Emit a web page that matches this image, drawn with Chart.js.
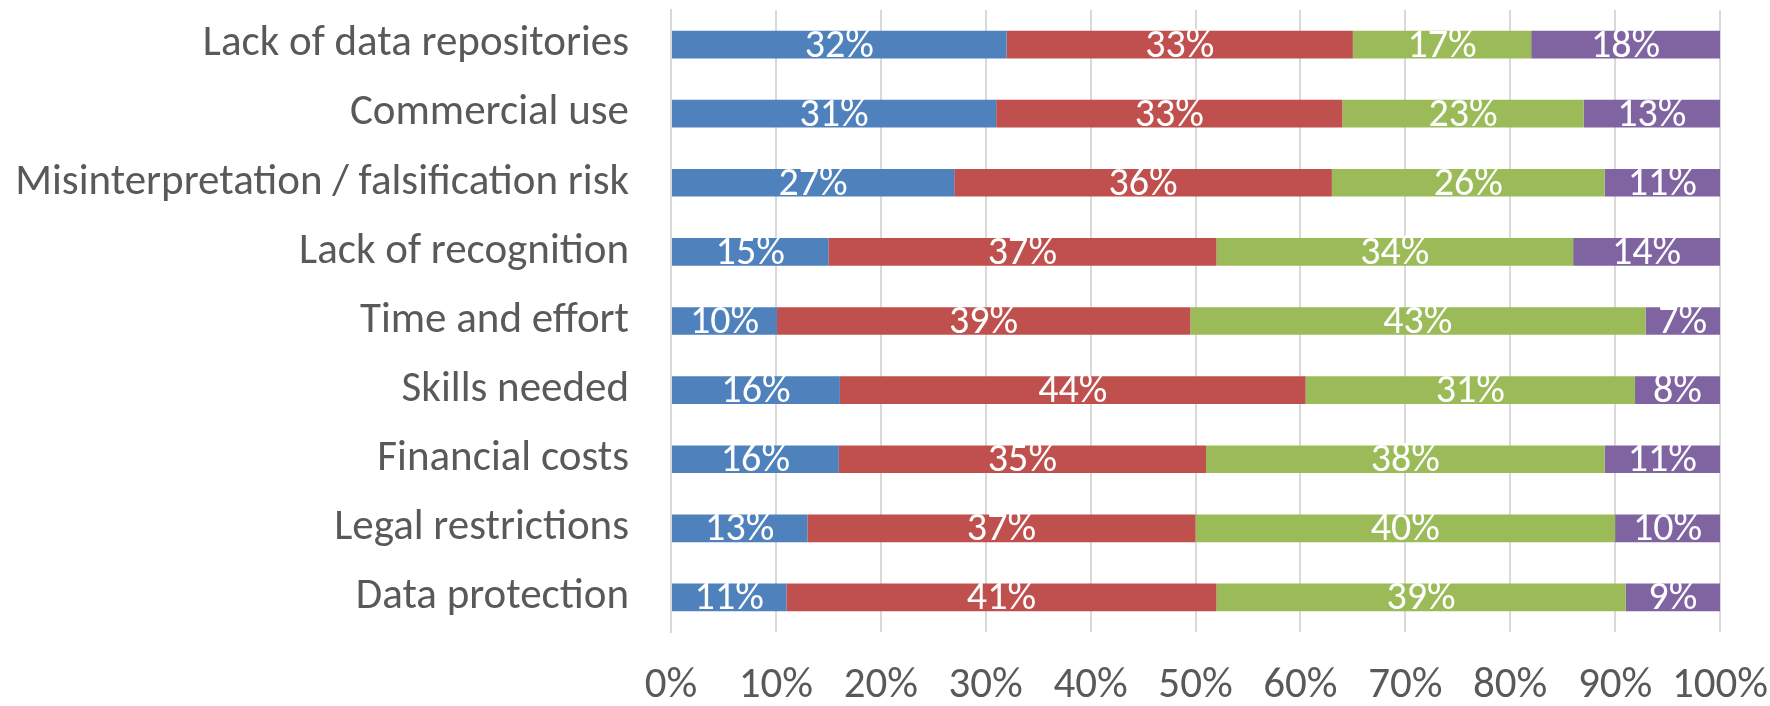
<!DOCTYPE html>
<html>
<head>
<meta charset="utf-8">
<script src="https://cdn.jsdelivr.net/npm/chart.js@4/dist/chart.umd.min.js"></script>
<style>
  html, body { margin: 0; padding: 0; background: #fff; }
  #wrap { width: 1770px; height: 706px; }
</style>
</head>
<body>
<div id="wrap"><canvas id="chart" width="1770" height="706"></canvas></div>
<script>
// Categories, top to bottom
const categories = [
  'Lack of data repositories',
  'Commercial use',
  'Misinterpretation / falsification risk',
  'Lack of recognition',
  'Time and effort',
  'Skills needed',
  'Financial costs',
  'Legal restrictions',
  'Data protection'
];

// Shares per answer group (percent)
const blueValues   = [32, 31, 27, 15, 10.1, 16.1, 16, 13, 11];
const redValues    = [33, 33, 36, 37, 39.4, 44.4, 35, 37, 41];
const greenValues  = [17, 23, 26, 34, 43.4, 31.4, 38, 40, 39];
const purpleValues = [18, 13, 11, 14, 7.1, 8.1, 11, 10, 9];

const xTicks = [0, 10, 20, 30, 40, 50, 60, 70, 80, 90, 100];

const FONT = 'Carlito, Calibri, Lato, sans-serif';
const TEXT_GREY = '#595959';

// draws the white percentage in the middle of each segment
const barLabels = {
  id: 'barLabels',
  afterDatasetsDraw(chart) {
    const ctx = chart.ctx;
    ctx.save();
    ctx.fillStyle = '#ffffff';
    ctx.font = '40px ' + FONT;
    ctx.textAlign = 'center';
    ctx.textBaseline = 'middle';
    chart.data.datasets.forEach((ds, i) => {
      const meta = chart.getDatasetMeta(i);
      meta.data.forEach((bar, j) => {
        const p = bar.getProps(['x', 'y', 'base'], true);
        const cx = (p.x + p.base) / 2;
        ctx.fillText(Math.round(ds.data[j]) + '%', cx, p.y + 2);
      });
    });
    ctx.restore();
  }
};

function makeSet(label, data, color) {
  return {
    label: label,
    data: data,
    backgroundColor: color,
    borderWidth: 0,
    categoryPercentage: 1,
    barPercentage: 0.4
  };
}

new Chart(document.getElementById('chart'), {
  type: 'bar',
  data: {
    labels: categories,
    datasets: [
      makeSet('A', blueValues, '#4f81bd'),
      makeSet('B', redValues, '#c0504d'),
      makeSet('C', greenValues, '#9bbb59'),
      makeSet('D', purpleValues, '#8064a2')
    ]
  },
  options: {
    indexAxis: 'y',
    responsive: false,
    animation: false,
    layout: { padding: { top: 10, right: 50, left: 0, bottom: 0 } },
    plugins: {
      legend: { display: false },
      tooltip: { enabled: false }
    },
    scales: {
      x: {
        stacked: true,
        min: 0,
        max: 100,
        afterBuildTicks(scale) {
          scale.ticks = xTicks.map(v => ({ value: v }));
        },
        afterFit(scale) {
          scale.height = 74;
          // keep the label padding out of the plot area
          scale.paddingLeft = 0;
          scale.paddingRight = 0;
        },
        grid: { color: '#d9d9d9', lineWidth: 2, drawTicks: false },
        border: { display: false },
        ticks: {
          color: TEXT_GREY,
          font: { family: FONT, size: 43 },
          padding: 28,
          maxRotation: 0,
          callback: v => v + '%'
        }
      },
      y: {
        stacked: true,
        afterFit(scale) {
          scale.width = 671;
          scale.paddingTop = 0;
          scale.paddingBottom = 0;
        },
        grid: { display: false, drawTicks: false },
        border: { display: true, color: '#d9d9d9', width: 2 },
        ticks: {
          color: TEXT_GREY,
          font: { family: FONT, size: 43 },
          padding: 42
        }
      }
    }
  },
  plugins: [barLabels]
});
</script>
</body>
</html>
